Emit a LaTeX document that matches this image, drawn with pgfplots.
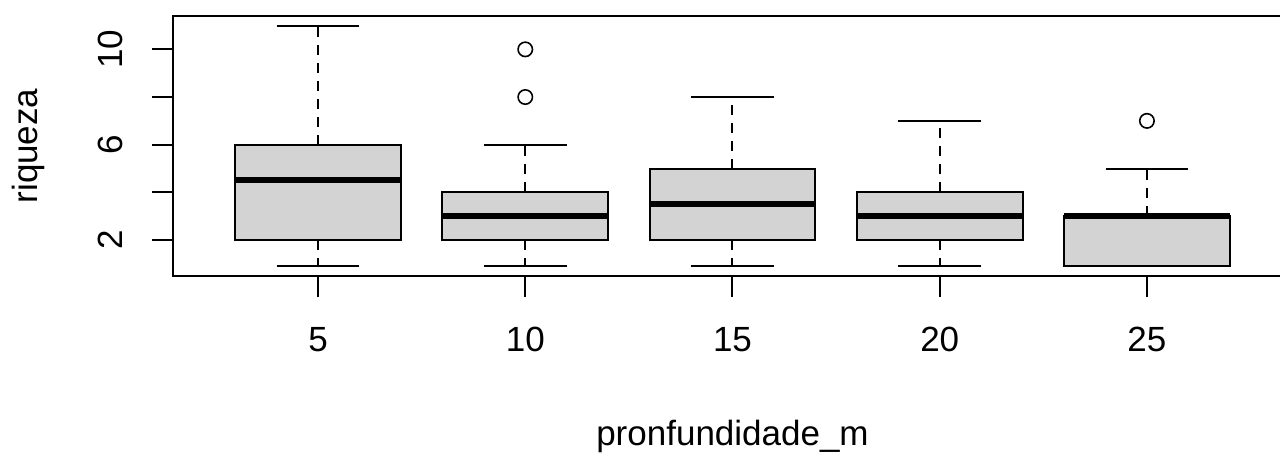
\documentclass[border=0pt]{standalone}
\usepackage{fontspec}
\setmainfont{Liberation Sans}
\usepackage{pgfplots}
\pgfplotsset{compat=1.18}
\usepgfplotslibrary{statistics}
\definecolor{boxgray}{HTML}{D3D3D3}
\newcommand\rfont{\fontsize{17.5}{21}\selectfont}

\begin{document}
\begin{tikzpicture}
\begin{axis}[
  at={(0,0)}, anchor=south west,
  scale only axis, width=559.5pt, height=130pt,
  xmin=0.3, xmax=5.7, ymin=0.49, ymax=11.4,
  axis line style={line width=1pt},
  tick style={line width=1pt, black},
  major tick length=10.5pt,
  tick align=outside, tick pos=left,
  xtick={1,2,3,4,5}, xticklabels={5,10,15,20,25},
  ytick={2,4,6,8,10}, yticklabels={2,,6,,10},
  /pgf/number format/assume math mode=true,
  tick label style={font=\rfont, inner sep=0pt},
  xticklabel style={anchor=north},
  xticklabel shift=15pt,
  yticklabel style={rotate=90, anchor=south},
  yticklabel shift=14.5pt,
  label style={font=\rfont},
  xlabel={pronfundidade\_m},
  xlabel style={at={(axis description cs:0.5,-0.652)}, anchor=base, inner sep=0pt},
  ylabel={riqueza},
  ylabel style={at={(axis description cs:-0.1215,0.5)}, anchor=base, inner sep=0pt},
  boxplot/draw direction=y,
  boxplot/box extend=0.8,
  boxplot/whisker extend=0.4,
  boxplot/every box/.style={draw=black, fill=boxgray, line width=1pt},
  boxplot/every median/.style={line width=3pt},
  boxplot/draw/lower whisker/.code={
    \draw[line width=1pt, dash pattern=on 5pt off 4pt]
      (boxplot box cs:\pgfplotsboxplotvalue{lower quartile},0.5) --
      (boxplot box cs:\pgfplotsboxplotvalue{lower whisker},0.5);
    \draw[line width=1pt]
      (boxplot whisker cs:\pgfplotsboxplotvalue{lower whisker},0) --
      (boxplot whisker cs:\pgfplotsboxplotvalue{lower whisker},1);
  },
  boxplot/draw/upper whisker/.code={
    \draw[line width=1pt, dash pattern=on 5pt off 4pt]
      (boxplot box cs:\pgfplotsboxplotvalue{upper quartile},0.5) --
      (boxplot box cs:\pgfplotsboxplotvalue{upper whisker},0.5);
    \draw[line width=1pt]
      (boxplot whisker cs:\pgfplotsboxplotvalue{upper whisker},0) --
      (boxplot whisker cs:\pgfplotsboxplotvalue{upper whisker},1);
  },
  clip=false,
]
% profundidade 5
\addplot[black, mark=o, mark size=3.6pt, mark options={line width=0.8pt, solid},
  boxplot prepared={draw position=1, lower whisker=0.9, lower quartile=2,
    median=4.5, upper quartile=6, upper whisker=11}]
  coordinates {};
% profundidade 10
\addplot[black, mark=o, mark size=3.6pt, mark options={line width=0.8pt, solid},
  boxplot prepared={draw position=2, lower whisker=0.9, lower quartile=2,
    median=3, upper quartile=4, upper whisker=6}]
  coordinates {(0,8) (0,10)};
% profundidade 15
\addplot[black, mark=o, mark size=3.6pt, mark options={line width=0.8pt, solid},
  boxplot prepared={draw position=3, lower whisker=0.9, lower quartile=2,
    median=3.5, upper quartile=5, upper whisker=8}]
  coordinates {};
% profundidade 20
\addplot[black, mark=o, mark size=3.6pt, mark options={line width=0.8pt, solid},
  boxplot prepared={draw position=4, lower whisker=0.9, lower quartile=2,
    median=3, upper quartile=4, upper whisker=7}]
  coordinates {};
% profundidade 25
\addplot[black, mark=o, mark size=3.6pt, mark options={line width=0.8pt, solid},
  boxplot prepared={draw position=5, lower whisker=0.9, lower quartile=0.9,
    median=3, upper quartile=3, upper whisker=5}]
  coordinates {(0,7)};
\end{axis}
\pgfresetboundingbox
\useasboundingbox (-86.5pt,-89pt) rectangle (553.5pt,138pt);
\end{tikzpicture}
\end{document}
